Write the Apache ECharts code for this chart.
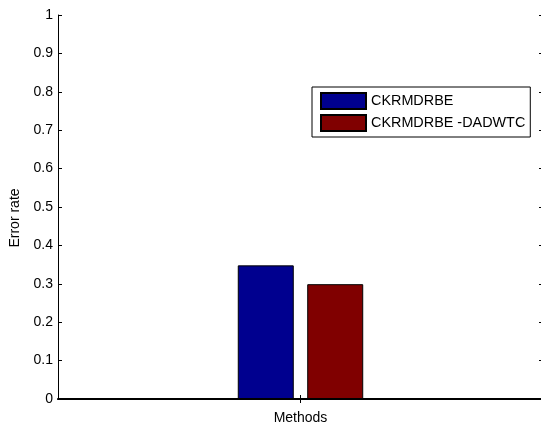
<!DOCTYPE html>
<html>
<head>
<meta charset="utf-8">
<script src="https://cdn.jsdelivr.net/npm/echarts@6/dist/echarts.min.js"></script>
<style>html,body{margin:0;padding:0;background:#fff}#c{width:541px;height:423px}</style>
</head>
<body>
<div id="c"></div>
<script>
var categories = ['Methods'];
var seriesNames = ['CKRMDRBE', 'CKRMDRBE -DADWTC'];
var valuesA = [0.348];
var valuesB = [0.299];
var yTicks = [0, 0.1, 0.2, 0.3, 0.4, 0.5, 0.6, 0.7, 0.8, 0.9, 1];

var font = 'Liberation Sans, Arial, Helvetica, sans-serif';
var chart = echarts.init(document.getElementById('c'), null, {renderer: 'canvas'});
var tickStyle = {show: true, inside: true, length: 4, lineStyle: {color: '#000', width: 1}};
chart.setOption({
  animation: false,
  textStyle: {fontFamily: font},
  grid: {left: 58, right: -2, top: 15, bottom: 24, containLabel: false, outerBoundsMode: 'none'},
  legend: {
    orient: 'vertical', left: 312, top: 87,
    icon: 'rect',
    itemWidth: 45, itemHeight: 16, itemGap: 4,
    padding: [5, 5, 5, 8],
    borderColor: '#000', borderWidth: 1, backgroundColor: '#fff',
    textStyle: {fontSize: 14.4, color: '#000', fontFamily: font},
    data: seriesNames
  },
  xAxis: [{
    type: 'category', data: categories, position: 'bottom',
    name: categories[0], nameLocation: 'middle', nameGap: 12,
    nameTextStyle: {fontSize: 14, color: '#000', fontFamily: font},
    axisLine: {lineStyle: {color: '#000', width: 2}},
    axisTick: {show: true, inside: true, length: 4, alignWithLabel: true, lineStyle: {color: '#000'}},
    axisLabel: {show: false}
  }, {
    type: 'category', data: categories, position: 'top',
    axisLine: {lineStyle: {color: '#000', width: 1}},
    axisTick: {show: true, inside: true, length: 4, alignWithLabel: true, lineStyle: {color: '#000'}},
    axisLabel: {show: false}
  }],
  yAxis: [{
    type: 'value', min: yTicks[0], max: yTicks[yTicks.length - 1], interval: 0.1,
    name: 'Error rate', nameLocation: 'middle', nameGap: 36, nameRotate: 90,
    nameTextStyle: {fontSize: 14, color: '#000', fontFamily: font, padding: [0, 0, 0, -22]},
    axisLine: {show: true, lineStyle: {color: '#000', width: 1}},
    axisTick: tickStyle,
    splitLine: {show: false},
    axisLabel: {fontSize: 14, color: '#000', margin: 5, fontFamily: font,
      formatter: function (v) { return String(Math.round(v * 10) / 10); }}
  }, {
    type: 'value', min: yTicks[0], max: yTicks[yTicks.length - 1], interval: 0.1, position: 'right',
    axisLine: {show: true, lineStyle: {color: '#000', width: 1}},
    axisTick: tickStyle,
    splitLine: {show: false},
    axisLabel: {show: false}
  }],
  series: [{
    name: seriesNames[0], type: 'bar', data: valuesA, barWidth: 56, barGap: '24%',
    itemStyle: {color: '#00008F', borderColor: '#000', borderWidth: 1}
  }, {
    name: seriesNames[1], type: 'bar', data: valuesB, barWidth: 56,
    itemStyle: {color: '#800000', borderColor: '#000', borderWidth: 1}
  }]
});
</script>
</body>
</html>
